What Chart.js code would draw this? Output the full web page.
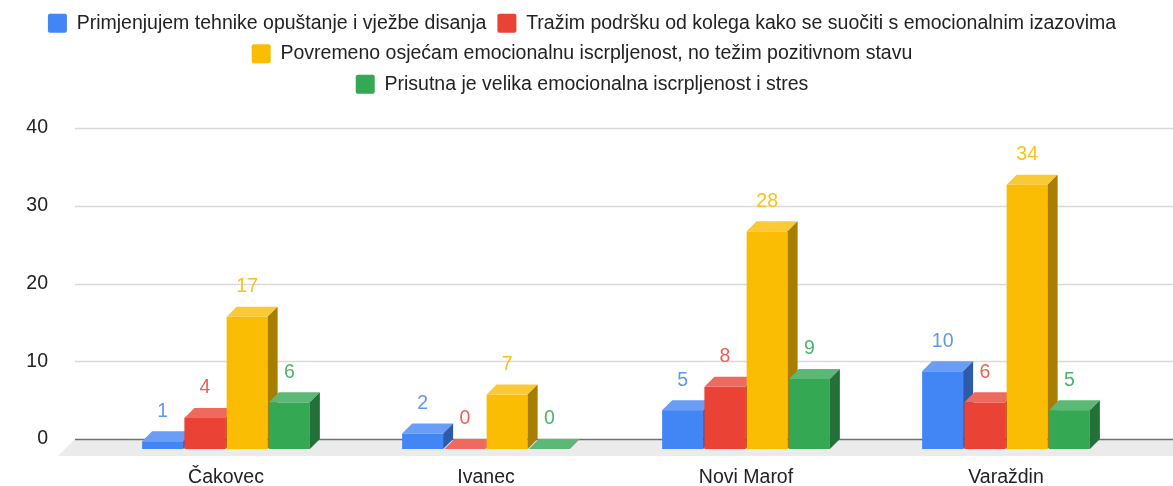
<!DOCTYPE html>
<html>
<head>
<meta charset="utf-8">
<script src="https://cdn.jsdelivr.net/npm/chart.js@4.4.1/dist/chart.umd.min.js"></script>
<style>
  html, body { margin: 0; padding: 0; background: #fff; }
</style>
</head>
<body>
<canvas id="chart" width="1173" height="486"></canvas>
<script>
const categories = ['Čakovec', 'Ivanec', 'Novi Marof', 'Varaždin'];
const seriesNames = [
    'Primjenjujem tehnike opuštanje i vježbe disanja',
    'Tražim podršku od kolega kako se suočiti s emocionalnim izazovima',
    'Povremeno osjećam emocionalnu iscrpljenost, no težim pozitivnom stavu',
    'Prisutna je velika emocionalna iscrpljenost i stres'
];
const relaxation = [1, 2, 5, 10];
const colleagues = [4, 0, 8, 6];
const occasional = [17, 7, 28, 34];
const severe = [6, 0, 9, 5];
const yTicks = [0, 10, 20, 30, 40];

// front / top / side colours for the fake 3D look
const palette = [
    { front: '#4285F4', top: '#6A9EF6', side: '#2C5BA9', label: '#5F97F5' },
    { front: '#EA4335', top: '#EE6A5E', side: '#A22E24', label: '#EC5F53' },
    { front: '#FBBC04', top: '#FBC934', side: '#A77D02', label: '#FBC01A' },
    { front: '#34A853', top: '#5CB975', side: '#237039', label: '#4DB36A' }
];
const seriesValues = [relaxation, colleagues, occasional, severe];

const DEPTH = 10;
const FONT_SIZE = 19.5;
const textColor = '#222222';

Chart.defaults.font.family = "'Liberation Sans', Arial, sans-serif";
Chart.defaults.font.size = FONT_SIZE;

const bars3d = {
    id: 'bars3d',
    afterLayout(chart) {
        // legend rows sit a little right of centre in the original
        chart.legend.left += 14;
        chart.legend.right += 14;
    },
    beforeDatasetsDraw(chart) {
        const { ctx, chartArea: a, scales: { y } } = chart;
        const y0 = y.getPixelForValue(0);
        const gx0 = a.left - 21;
        const gx1 = chart.width + 20;

        ctx.save();
        // gridlines on the back wall
        ctx.lineWidth = 1.5;
        ctx.strokeStyle = '#d9d9d9';
        yTicks.forEach(t => {
            if (t === 0) return;
            const py = Math.round(y.getPixelForValue(t)) + 0.5;
            ctx.beginPath();
            ctx.moveTo(gx0, py);
            ctx.lineTo(gx1, py);
            ctx.stroke();
        });

        // floor
        ctx.fillStyle = '#ebebeb';
        ctx.beginPath();
        ctx.moveTo(gx0, y0);
        ctx.lineTo(gx1, y0);
        ctx.lineTo(gx1 - 17, y0 + 17);
        ctx.lineTo(gx0 - 17, y0 + 17);
        ctx.closePath();
        ctx.fill();

        // baseline
        ctx.strokeStyle = '#707070';
        ctx.beginPath();
        ctx.moveTo(gx0, Math.round(y0) + 0.5);
        ctx.lineTo(gx1, Math.round(y0) + 0.5);
        ctx.stroke();

        // bars, left to right
        categories.forEach((c, i) => {
            seriesValues.forEach((vals, d) => {
                const bar = chart.getDatasetMeta(d).data[i];
                const col = palette[d];
                const x0 = bar.x - bar.width / 2;
                const x1 = bar.x + bar.width / 2;
                const top = bar.y + DEPTH;
                const bottom = bar.base + DEPTH;

                ctx.fillStyle = col.front;
                ctx.fillRect(x0, top, x1 - x0, bottom - top);

                ctx.fillStyle = col.top;
                ctx.beginPath();
                ctx.moveTo(x0, top);
                ctx.lineTo(x1, top);
                ctx.lineTo(x1 + DEPTH, top - DEPTH);
                ctx.lineTo(x0 + DEPTH, top - DEPTH);
                ctx.closePath();
                ctx.fill();

                if (bottom - top > 0.5) {
                    ctx.fillStyle = col.side;
                    ctx.beginPath();
                    ctx.moveTo(x1, top);
                    ctx.lineTo(x1 + DEPTH, top - DEPTH);
                    ctx.lineTo(x1 + DEPTH, bottom - DEPTH);
                    ctx.lineTo(x1, bottom);
                    ctx.closePath();
                    ctx.fill();
                }
            });
        });

        // value labels
        ctx.font = FONT_SIZE + "px 'Liberation Sans', Arial, sans-serif";
        ctx.textAlign = 'center';
        ctx.textBaseline = 'middle';
        seriesValues.forEach((vals, d) => {
            chart.getDatasetMeta(d).data.forEach((bar, i) => {
                ctx.fillStyle = palette[d].label;
                ctx.fillText(String(vals[i]), bar.x, bar.y - 20);
            });
        });
        ctx.restore();
        return false;
    }
};

const ctx = document.getElementById('chart').getContext('2d');

new Chart(ctx, {
    type: 'bar',
    data: {
        labels: categories,
        datasets: seriesValues.map((vals, d) => ({
            label: seriesNames[d],
            data: vals,
            backgroundColor: palette[d].front,
            borderWidth: 0,
            categoryPercentage: 0.65,
            barPercentage: 0.97
        }))
    },
    options: {
        responsive: false,
        animation: false,
        devicePixelRatio: 1,
        layout: { padding: { top: 2.5, right: 37, left: 0, bottom: 0 } },
        plugins: {
            legend: {
                position: 'top',
                labels: {
                    boxWidth: 19,
                    boxHeight: 19,
                    padding: 11,
                    color: textColor,
                    useBorderRadius: true,
                    borderRadius: 2,
                    font: { size: FONT_SIZE }
                }
            },
            tooltip: { enabled: false }
        },
        scales: {
            x: {
                grid: { display: false, drawTicks: false },
                border: { display: false },
                ticks: { padding: 27, color: textColor, font: { size: FONT_SIZE } },
                afterFit: s => { s.height = 47; }
            },
            xTop: {
                type: 'category',
                position: 'top',
                grid: { display: false, drawTicks: false },
                border: { display: false },
                ticks: { display: false },
                afterFit: s => { s.height = 24; }
            },
            y: {
                min: 0,
                max: 40,
                ticks: { stepSize: 10, padding: 48, color: textColor, font: { size: FONT_SIZE } },
                grid: { display: false, drawTicks: false },
                border: { display: false },
                afterFit: s => {
                    s.width = 96;
                    s.paddingTop = 0;
                    s.paddingBottom = 0;
                }
            }
        }
    },
    plugins: [bars3d]
});
</script>
</body>
</html>
